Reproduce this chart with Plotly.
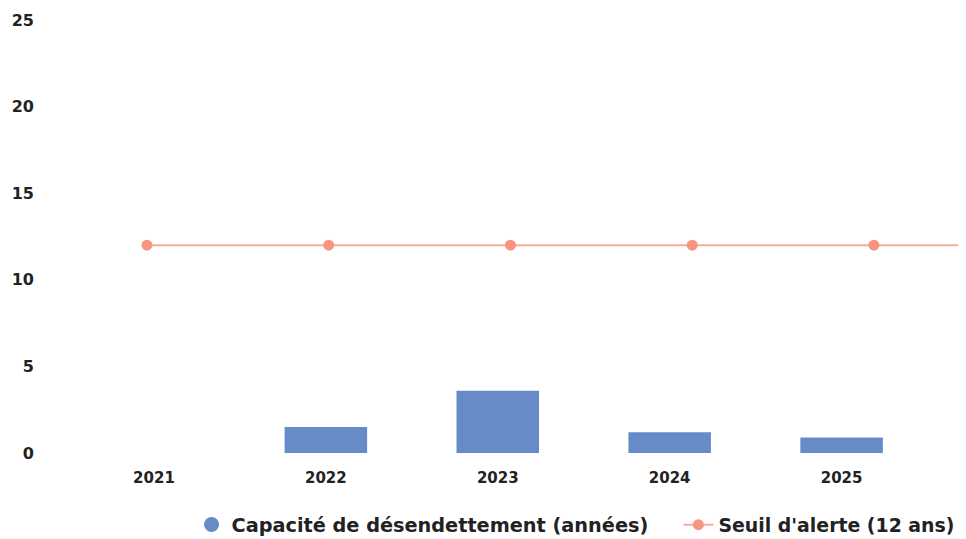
import plotly.graph_objects as go

years = ["2021", "2022", "2023", "2024", "2025"]
capacite = [0, 1.5, 3.6, 1.2, 0.9]
seuil = [12, 12, 12, 12, 12]
y_ticks = [0, 5, 10, 15, 20, 25]

BAR_COLOUR = "#678ac8"
LINE_COLOUR = "#f9ab9b"
MARKER_COLOUR = "#f89582"
TEXT_COLOUR = "#222222"

FONT = dict(family="DejaVu Sans", size=15, color=TEXT_COLOUR, weight="bold")
LEGEND_FONT = dict(family="DejaVu Sans", size=19.3, color=TEXT_COLOUR, weight="bold")

fig = go.Figure()

fig.add_trace(
    go.Bar(
        x=years,
        y=capacite,
        width=0.48,
        marker=dict(color=BAR_COLOUR, line_width=0),
        showlegend=False,
        xaxis="x",
    )
)

# legend entry for the bars drawn as a dot, like the original
fig.add_trace(
    go.Scatter(
        x=[None],
        y=[None],
        mode="markers",
        name="Capacité de désendettement (années)",
        marker=dict(color=BAR_COLOUR, size=15, symbol="circle"),
        xaxis="x",
        legend="legend",
    )
)

fig.add_trace(
    go.Scatter(
        x=years,
        y=seuil,
        mode="lines+markers",
        name="Seuil d'alerte (12 ans)",
        line=dict(color=LINE_COLOUR, width=2),
        marker=dict(color=MARKER_COLOUR, size=11),
        xaxis="x2",
        legend="legend2",
    )
)

# threshold keeps running to the right edge of the plot
line_range = [-0.583, 4.468]
fig.add_shape(
    type="line",
    xref="x2",
    yref="y",
    x0=len(years) - 1,
    x1=line_range[1],
    y0=seuil[-1],
    y1=seuil[-1],
    line=dict(color=LINE_COLOUR, width=2),
    layer="below",
)

legend_common = dict(
    orientation="h",
    xref="container",
    yref="container",
    xanchor="left",
    y=0.041,
    yanchor="middle",
    itemwidth=30,
    bgcolor="rgba(0,0,0,0)",
)

fig.update_layout(
    width=966,
    height=539,
    margin=dict(l=33, r=15, t=12, b=94),
    plot_bgcolor="white",
    paper_bgcolor="white",
    font=FONT,
    xaxis=dict(
        type="category",
        range=[-0.657, 4.683],
        showgrid=False,
        showline=False,
        zeroline=False,
        ticks="",
        tickfont=FONT,
        ticklabelstandoff=14,
        automargin=False,
    ),
    xaxis2=dict(
        type="category",
        overlaying="x",
        range=line_range,
        visible=False,
    ),
    yaxis=dict(
        range=[0, 25],
        tickvals=y_ticks,
        showgrid=False,
        showline=False,
        zeroline=False,
        ticks="",
        tickfont=dict(FONT, size=16),
        ticklabelstandoff=6,
        automargin=False,
    ),
    legend=dict(legend_common, x=0.19, font=LEGEND_FONT),
    legend2=dict(legend_common, x=0.694, font=dict(LEGEND_FONT, size=18.9)),
)

fig.write_html("out.html")
